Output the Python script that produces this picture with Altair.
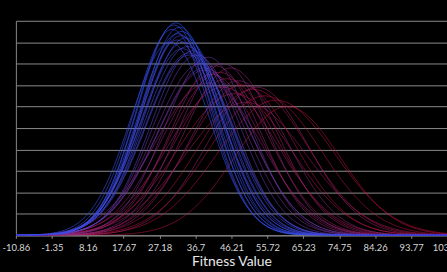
import altair as alt
import pandas as pd

# Per-curve parameters (centre, spread, peak height, colour shade 0=blue..1=red)
curve_mean = [58, 55, 52, 49, 47, 45, 43, 50, 44, 41, 46, 53, 40, 42, 48, 39, 44, 61,
              38, 40, 37, 39, 36, 35,
              31.5, 32.5, 33.0, 31.0, 34.0, 32.0, 33.5, 30.5, 34.5, 32.8, 31.8, 33.2, 30.0, 35.0]
curve_sd = [15.5, 15.0, 14.5, 14.0, 15.0, 13.5, 13.0, 16.0, 14.5, 13.0, 12.5, 13.5, 14.0, 12.0, 13.0, 12.5, 12.0, 14.0,
            12.0, 11.5, 11.5, 12.5, 11.0, 11.5,
            10.0, 10.2, 10.5, 9.8, 10.8, 10.3, 11.0, 10.0, 11.2, 10.6, 10.1, 10.9, 10.4, 11.4]
curve_peak = [6.3, 6.5, 6.8, 7.0, 6.6, 7.3, 7.6, 6.2, 6.9, 7.5, 7.8, 6.9, 7.1, 7.9, 7.2, 7.7, 8.0, 6.0,
              8.0, 8.3, 8.4, 7.8, 8.6, 8.5,
              9.9, 9.7, 9.5, 9.8, 9.2, 9.4, 9.0, 9.6, 8.8, 9.3, 9.1, 8.7, 9.0, 8.4]
curve_shade = [1.0, 0.97, 0.95, 0.92, 0.9, 0.88, 0.85, 0.83, 0.8, 0.78, 0.75, 0.73, 0.7, 0.68, 0.65, 0.62, 0.6, 0.98,
               0.5, 0.45, 0.4, 0.35, 0.3, 0.25,
               0.0, 0.02, 0.04, 0.06, 0.08, 0.1, 0.12, 0.14, 0.16, 0.18, 0.2, 0.22, 0.05, 0.15]

tick_values = [-10.86, -1.35, 8.16, 17.67, 27.18, 36.7, 46.21, 55.72, 65.23, 74.75, 84.26, 93.77, 103.28]

df = pd.DataFrame({
    "id": list(range(len(curve_mean))),
    "mean": curve_mean,
    "sd": curve_sd,
    "peak": curve_peak,
    "shade": curve_shade,
})

chart = alt.Chart(df).transform_calculate(
    x="sequence(-10.86, 103.6, 0.4)"
).transform_flatten(["x"]).transform_calculate(
    y="datum.peak * exp(-0.5 * pow((datum.x - datum.mean) / datum.sd, 2))"
).mark_line(strokeWidth=0.8, clip=True).encode(
    x=alt.X("x:Q",
            scale=alt.Scale(domain=[-10.86, 103.28], nice=False, zero=False),
            axis=alt.Axis(values=tick_values, labelExpr="toString(datum.value)",
                          title="Fitness Value", titleColor="#e8e8e8", titleFontSize=14,
                          titleFont="Lato", titleFontWeight="normal", titlePadding=3,
                          labelColor="#d8d8d8", labelFontSize=9.5, labelFont="Lato",
                          labelPadding=4, tickSize=3, tickColor="#888888",
                          domainColor="#888888", grid=False, labelOverlap=False,
                          labelFlush=False)),
    y=alt.Y("y:Q",
            scale=alt.Scale(domain=[0, 10], nice=False),
            axis=alt.Axis(values=list(range(11)), labels=False, ticks=False, title=None,
                          grid=True, gridColor="#8a8a8a", gridWidth=1,
                          domainColor="#888888")),
    color=alt.Color("shade:Q",
                    scale=alt.Scale(range=["#2a55ff", "#cc1440"], interpolate="rgb"),
                    legend=None),
    strokeOpacity=alt.StrokeOpacity("shade:Q", scale=alt.Scale(domain=[0, 1], range=[0.75, 0.65]),
                                    legend=None),
    detail="id:N",
).properties(
    width=434,
    height=216,
    background="black",
    autosize=alt.AutoSizeParams(type="none"),
    padding={"left": 16, "top": 20, "right": 0, "bottom": 36},
    title=alt.TitleParams("Fitness Distribution of Each Group", anchor="end", dx=-124,
                          offset=20, dy=2, baseline="alphabetic", color="white",
                          fontSize=16, font="Lato", fontWeight="normal"),
).configure_view(stroke=None)

chart.save("out.html", embed_options={"renderer": "svg", "actions": False})
